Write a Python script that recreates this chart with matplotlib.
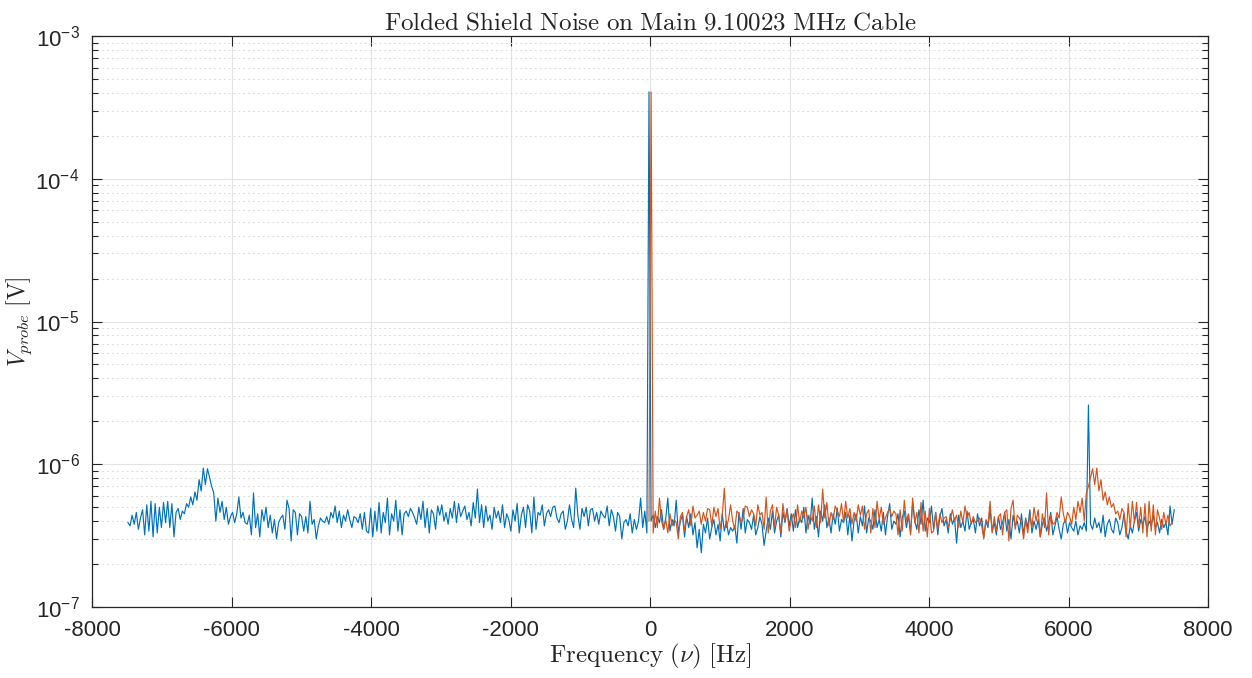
import matplotlib
matplotlib.use("Agg")
import matplotlib.pyplot as plt
import numpy as np
from matplotlib.ticker import LogLocator, MultipleLocator, NullFormatter

plt.rcParams['font.family'] = ['Liberation Sans', 'DejaVu Sans']
plt.rcParams['mathtext.fontset'] = 'cm'
plt.rcParams['axes.unicode_minus'] = False

# frequency grid of the spectrum (Hz), carrier sits just below 0
freq_neg = np.arange(-7485, 16, 30)
freq_pos = np.arange(45, 7516, 30)

# blue trace, negative side, units of 1e-7 V
v_neg = [
    3.9, 3.7, 4.4, 3.8, 4.6, 3.5, 4.2, 4.8,
    3.2, 5.2, 3.4, 5.5, 3.1, 5.3, 3.3, 5.0, 3.6, 5.4, 3.9,
    5.5, 3.6, 5.3, 3.1, 4.6, 4.9, 4.1, 4.7, 4.5, 5.3, 5.0,
    5.9, 5.2, 6.4, 5.6, 7.8, 6.5, 9.4, 7.2, 9.3, 8.1, 7.0,
    6.3, 4.0, 5.8, 4.6, 5.5, 4.1, 5.0, 3.8, 4.3, 4.6, 3.9,
    4.5, 5.9, 4.2, 4.6, 3.9, 3.8, 4.4, 3.2, 6.3, 3.6, 4.5,
    3.1, 4.8, 4.0, 5.0, 3.6, 4.4, 3.3, 4.1, 3.0, 3.9, 4.2,
    4.4, 3.5, 5.6, 4.9, 2.9, 4.8, 4.6, 3.2, 4.5, 4.3, 3.4,
    4.3, 3.3, 5.5, 3.8, 4.1, 3.0, 3.7, 4.2, 4.0, 3.9, 4.3,
    3.8, 4.6, 4.2, 5.1, 3.9, 4.7, 3.6, 4.4, 4.0, 4.8, 4.1,
    3.6, 4.3, 4.2, 3.9, 4.5, 3.5, 4.6, 3.4, 3.3, 4.9, 3.1,
    4.7, 3.4, 5.4, 3.3, 4.6, 3.9, 5.8, 3.2, 4.5, 4.0, 5.6,
    3.4, 4.8, 3.2, 4.5, 4.7, 4.3, 4.9, 4.6, 4.2, 3.8, 5.0,
    4.1, 5.5, 3.6, 4.9, 3.3, 4.8, 4.5, 3.5, 5.1, 4.4, 5.2,
    4.0, 4.6, 3.8, 4.9, 4.2, 5.5, 3.9, 5.3, 4.3, 4.7, 5.1,
    4.1, 4.6, 3.7, 5.4, 4.2, 6.7, 3.9, 5.2, 3.6, 5.1, 4.0,
    4.4, 3.5, 5.0, 4.2, 4.7, 3.9, 5.2, 3.6, 4.5, 4.1, 3.4,
    4.8, 4.0, 5.3, 3.3, 4.4, 5.0, 3.6, 5.2, 4.7, 3.3, 5.9,
    3.5, 4.6, 4.4, 5.2, 3.7, 4.5, 4.8, 4.3, 5.0, 5.1, 4.2,
    3.9, 4.5, 4.7, 3.5, 4.0, 5.2, 4.1, 3.6, 6.8, 4.4, 3.5,
    4.9, 4.3, 5.0, 3.7, 4.8, 4.9, 4.0, 4.6, 3.8, 4.7, 4.4,
    4.2, 5.1, 3.7, 4.8, 4.3, 3.4, 4.6, 4.3, 3.0, 3.9, 4.1,
    3.7, 4.5, 3.3, 4.1, 3.5, 4.0, 5.8, 3.6, 4.7, 3.3, 4060.0,
    4.0,
]

# blue trace, positive side, units of 1e-7 V
v_pos = [
    4.4, 3.6, 4.3, 3.9, 4.8, 3.5, 4.2, 5.8, 3.4, 4.1, 3.7,
    5.6, 3.3, 4.0, 4.4, 3.1, 4.3, 3.6, 4.5, 3.2, 3.9, 2.6,
    3.5, 2.4, 3.8, 3.3, 4.2, 3.0, 3.6, 4.1, 3.2, 3.8, 2.9,
    4.5, 3.4, 4.0, 3.2, 3.6, 3.4, 3.7, 2.8, 4.6, 3.5, 4.9,
    3.3, 4.1, 3.9, 3.5, 4.4, 3.2, 3.6, 4.3, 3.8, 2.7, 3.4,
    4.2, 3.5, 4.7, 3.3, 4.0, 4.4, 3.1, 4.6, 3.9, 4.9, 3.7,
    4.5, 3.4, 4.8, 3.6, 4.2, 3.9, 5.0, 3.3, 4.4, 3.8, 5.8,
    3.5, 4.3, 3.1, 4.7, 4.0, 5.2, 3.6, 4.2, 3.3, 4.5, 3.8,
    4.9, 3.4, 4.1, 3.9, 4.6, 3.2, 4.4, 2.9, 4.0, 4.5, 3.3,
    4.3, 3.7, 5.1, 3.3, 4.2, 4.0, 3.5, 4.8, 3.6, 4.1, 3.4,
    4.6, 3.2, 4.3, 5.3, 3.5, 4.0, 3.8, 4.5, 3.1, 4.2, 4.7,
    3.6, 4.4, 3.3, 5.4, 4.0, 3.5, 4.8, 3.8, 5.6, 3.4, 4.2,
    3.9, 5.1, 3.5, 4.6, 3.2, 4.3, 4.9, 3.7, 4.1, 3.3, 4.5,
    3.8, 4.2, 2.8, 4.4, 3.6, 4.0, 3.4, 4.7, 3.5, 3.9, 4.1,
    3.3, 4.5, 3.7, 4.2, 3.1, 4.0, 3.6, 4.8, 3.4, 3.9, 3.2,
    4.3, 3.5, 3.9, 4.6, 3.4, 4.1, 3.0, 4.4, 3.7, 4.0, 3.3,
    4.5, 3.2, 4.2, 3.6, 4.8, 3.3, 4.0, 3.5, 4.1, 3.1, 3.8,
    4.2, 3.4, 3.9, 4.6, 3.2, 3.7, 4.3, 3.5, 3.0, 3.8, 4.1,
    3.3, 3.9, 3.6, 3.4, 4.0, 3.2, 3.7, 3.5, 3.9, 3.4, 26.0,
    3.8, 3.5, 4.2, 3.6, 3.9, 3.3, 4.4, 3.1, 3.8, 4.1, 3.5,
    3.3, 4.2, 3.9, 3.2, 3.6, 4.5, 3.4, 3.0, 3.7, 3.3, 4.0,
    4.6, 3.4, 4.1, 3.8, 4.3, 3.5, 4.0, 3.7, 4.4, 3.6, 3.9,
    3.3, 4.1, 3.6, 3.9, 3.2, 5.1, 3.8, 4.8,
]

freq = np.concatenate([freq_neg, freq_pos])
v_full = np.concatenate([v_neg, v_pos]) * 1e-7

# folded: negative half mirrored onto positive frequencies
freq_fold = -freq_neg[::-1]
v_fold = np.array(v_neg[::-1]) * 1e-7

fig = plt.figure(figsize=(12.52, 6.78), dpi=100)
ax = fig.add_axes([0.0735, 0.1047, 0.8914, 0.8422])

ax.semilogy(freq, v_full, color=(0, 0.447, 0.741), lw=0.85)
ax.semilogy(freq_fold, v_fold, color=(0.85, 0.325, 0.098), lw=0.85)

ax.set_xlim(-8000, 8000)
ax.set_ylim(1e-7, 1e-3)
ax.xaxis.set_major_locator(MultipleLocator(2000))
ax.yaxis.set_major_locator(LogLocator(base=10, numticks=10))
ax.yaxis.set_minor_locator(LogLocator(base=10, subs=np.arange(2, 10), numticks=20))
ax.yaxis.set_minor_formatter(NullFormatter())

ax.grid(True, which='major', color='#e3e3e3', lw=0.8, ls='-')
ax.grid(True, which='minor', axis='y', color='#dcdcdc', lw=0.7, ls=(0, (2, 3)))
ax.set_axisbelow(True)

for s in ax.spines.values():
    s.set_color('#262626')
    s.set_linewidth(0.9)
ax.tick_params(which='both', direction='in', top=True, right=True,
               colors='#262626', labelsize=16, width=0.8)
ax.tick_params(which='major', length=7, pad=9)
ax.tick_params(which='minor', length=4)

ax.set_title(r'$\mathrm{Folded\ Shield\ Noise\ on\ Main\ 9.10023\ MHz\ Cable}$',
             fontsize=18, color='#262626', pad=5)
ax.set_xlabel(r'$\mathrm{Frequency}\ (\nu)\ [\mathrm{Hz}]$', fontsize=18,
              color='#262626', labelpad=1)
ax.set_ylabel(r'$V_{probe}\ [\mathrm{V}]$', fontsize=17, color='#262626')
ax.yaxis.set_label_coords(-0.052, 0.5)

fig.savefig('out.png', dpi=100, facecolor='white')
